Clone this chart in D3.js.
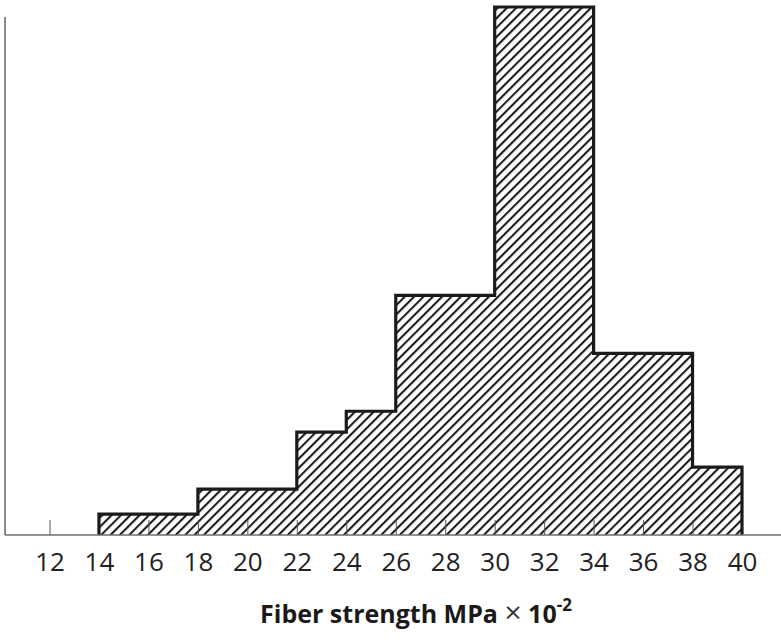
<!DOCTYPE html>
<html>
<head>
<meta charset="utf-8">
<script src="https://cdn.jsdelivr.net/npm/d3@7"></script>
<style>
  body { margin: 0; background: #fff; }
  svg { display: block; }
</style>
</head>
<body>
<div id="chart"></div>
<script>
// histogram bins (left edges + last right edge) and heights
var binEdges = [14, 18, 22, 24, 26, 30, 34, 38, 40];
var binValues = [1.05, 2.3, 5.15, 6.2, 12.0, 26.45, 9.1, 3.4];
var tickLabels = [12, 14, 16, 18, 20, 22, 24, 26, 28, 30, 32, 34, 36, 38, 40];
var xTitle = "Fiber strength MPa";

var width = 781, height = 640;
var base = 535;

var svg = d3.select("#chart").append("svg")
    .attr("width", width)
    .attr("height", height);

var x = d3.scaleLinear()
    .domain([12, 40])
    .range([49.5, 742]);

var y = d3.scaleLinear()
    .domain([0, 26])
    .range([base, 16]);

// hatch pattern
var defs = svg.append("defs");
var pat = defs.append("pattern")
    .attr("id", "hatch")
    .attr("patternUnits", "userSpaceOnUse")
    .attr("width", 6.6)
    .attr("height", 6.6)
    .attr("patternTransform", "rotate(45)");
pat.append("rect").attr("width", 6.6).attr("height", 6.6).attr("fill", "#fff");
pat.append("line")
    .attr("x1", 1).attr("y1", 0)
    .attr("x2", 1).attr("y2", 6.6)
    .attr("stroke", "#1a1a1a")
    .attr("stroke-width", 2.1);

// step outline of the histogram
var pts = [[x(binEdges[0]), y(0)]];
binValues.forEach(function(v, i) {
  pts.push([x(binEdges[i]), y(v)]);
  pts.push([x(binEdges[i + 1]), y(v)]);
});
pts.push([x(binEdges[binEdges.length - 1]), y(0)]);

svg.append("path")
    .attr("d", d3.line()(pts))
    .attr("fill", "url(#hatch)")
    .attr("stroke", "none");

// x axis: ticks pointing up into the plot
var xAxis = svg.append("g")
    .attr("transform", "translate(0," + base + ")")
    .call(d3.axisBottom(x)
      .tickValues(tickLabels)
      .tickSizeInner(-15)
      .tickSizeOuter(0)
      .tickPadding(18)
      .tickFormat(d3.format("d")));
xAxis.select(".domain").remove();
xAxis.selectAll(".tick line")
    .attr("stroke", "#555")
    .attr("stroke-width", 1);
xAxis.selectAll(".tick text")
    .attr("fill", "#222")
    .attr("font-family", "'Open Sans', sans-serif")
    .attr("font-size", 26);

// outline on top of ticks
svg.append("path")
    .attr("d", d3.line()(pts))
    .attr("fill", "none")
    .attr("stroke", "#1a1a1a")
    .attr("stroke-width", 3.2)
    .attr("stroke-linejoin", "miter");

// axis lines
svg.append("line")
    .attr("x1", 5).attr("x2", width)
    .attr("y1", y(0)).attr("y2", y(0))
    .attr("stroke", "#6e6e6e")
    .attr("stroke-width", 1.6);
svg.append("line")
    .attr("x1", 5).attr("x2", 5)
    .attr("y1", y(0)).attr("y2", y(25.95))
    .attr("stroke", "#6e6e6e")
    .attr("stroke-width", 1.6);

// axis title
var title = svg.append("text")
    .attr("x", 416)
    .attr("y", 623)
    .attr("text-anchor", "middle")
    .attr("font-family", "'Open Sans', sans-serif")
    .attr("font-size", 25)
    .attr("font-weight", "bold")
    .attr("fill", "#1a1a1a");
title.append("tspan").text(xTitle + " ");
title.append("tspan").attr("font-weight", "normal").attr("font-size", 30).attr("fill", "#333").text("\u00d7");
title.append("tspan").text(" 10");
title.append("tspan").attr("dy", -12).attr("font-size", 17).text("-2");
</script>
</body>
</html>
